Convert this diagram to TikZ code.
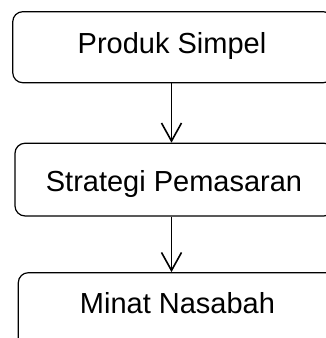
\documentclass[tikz,border=0pt]{standalone}
\usepackage{fontspec}
\setmainfont{Liberation Sans}
\usetikzlibrary{arrows.meta}
\begin{document}
\begin{tikzpicture}[x=1pt,y=1pt,
  box/.style={draw=black, line width=1.2pt, rounded corners=10pt, inner sep=0pt},
  lbl/.style={font=\fontsize{29}{34}\selectfont, inner sep=0pt, anchor=base},
  conn/.style={draw=black, line width=1.8pt, -{Straight Barb[length=18pt,width=20pt,line width=1.6pt]}}]
\useasboundingbox (0,0) rectangle (326,-338);
\clip (0,0) rectangle (326,-338);
\node[box, minimum width=320.5pt, minimum height=71pt] (b1) at (173,-47.2) {};
\node[box, minimum width=319pt, minimum height=72.7pt] (b2) at (174.5,-179.6) {};
\node[box, minimum width=322pt, minimum height=78pt] (b3) at (179.3,-311.7) {};
\node[lbl] (t1) at (172,-53.3) {Produk Simpel};
\node[lbl] (t2) at (174,-191.7) {Strategi Pemasaran};
\node[lbl] (t3) at (177.5,-313) {Minat Nasabah};
\coordinate (ax) at (171.5,0);
\draw[conn] (b1.south -| ax) -- (b2.north -| ax);
\draw[conn] (b2.south -| ax) -- (b3.north -| ax);
\end{tikzpicture}
\end{document}
